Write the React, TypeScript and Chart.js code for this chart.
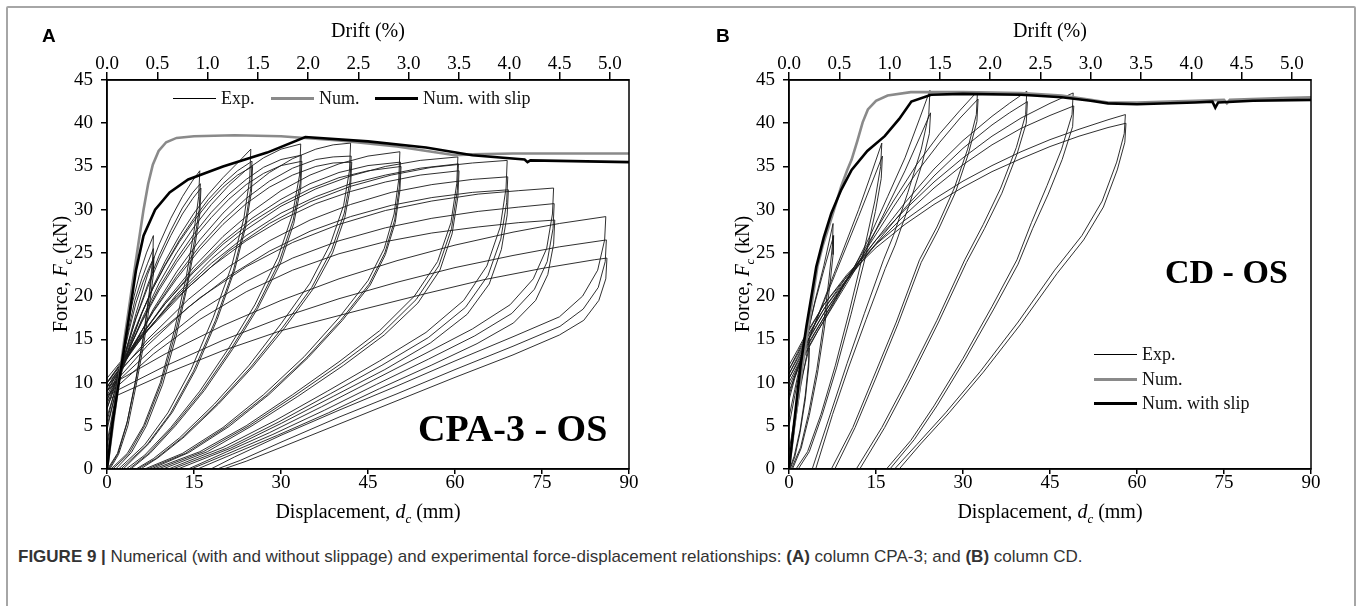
import React, { useEffect, useRef } from "react";
import { Chart, registerables } from "chart.js";

Chart.register(...registerables);

// ---------- axis tick values ----------
const dispTicks = [0, 15, 30, 45, 60, 75, 90];
const forceTicks = [0, 5, 10, 15, 20, 25, 30, 35, 40, 45];
const driftTicks = [0.0, 0.5, 1.0, 1.5, 2.0, 2.5, 3.0, 3.5, 4.0, 4.5, 5.0];
const driftAtMaxDisp = 5.19; // drift (%) at 90 mm

// ---------- Panel A : column CPA-3 ----------
const cpaNum = [
  [0, 0], [1.5, 7.5], [3, 15], [4.3, 21], [5.4, 26], [6.3, 30], [7.1, 33], [7.9, 35.2],
  [8.9, 36.8], [10.2, 37.8], [12, 38.3], [15, 38.5], [22, 38.6], [30, 38.5], [40, 38.0], [50, 37.3],
  [60, 36.3], [63, 36.4], [70, 36.5], [90, 36.5],
];
const cpaNumSlip = [
  [0, 0], [1, 5.5], [2.5, 12], [4, 18.5], [5, 23], [6.3, 27], [8.3, 30], [10.8, 32], [14, 33.5],
  [20, 35], [27.6, 36.6], [34.2, 38.4], [45, 37.9], [55, 37.2], [63, 36.3], [72, 35.8],
  [72.5, 35.5], [73, 35.7], [90, 35.5],
];
const cpaExp08 = [
  [[0, 0], [0.8, 4.5], [1.8, 9.5], [3, 14.5], [4.3, 19], [5.6, 22.5], [6.8, 25], [8, 27],
   [7.9, 24.5], [7.3, 20.5], [6.3, 15.5], [5, 10.5], [3.5, 5.5], [1.8, 1.8], [0.1, 0]],
  [[0, 1.5], [1, 6], [2.2, 11], [3.5, 15.5], [4.8, 19.5], [6, 22], [7, 23.8], [8, 25.5],
   [7.9, 23.5], [7.2, 19.5], [6.2, 14.8], [4.9, 10], [3.4, 5.2], [1.9, 1.8], [0.3, 0]],
  [[0, 2.5], [1.2, 7], [2.5, 12], [3.8, 16], [5, 19.2], [6.2, 21.6], [7.2, 23.2], [8.1, 24.5],
   [8, 22.5], [7.3, 18.8], [6.3, 14.3], [5, 9.6], [3.6, 5], [2, 1.7], [0.5, 0]],
];
const cpaExp16 = [
  [[0, 3], [1.5, 8.5], [3, 13], [5, 18], [7, 22.5], [9, 26], [11, 29], [13, 31.5], [14.7, 33.3], [16, 34.5],
   [15.8, 31.5], [15, 27.5], [13.6, 22], [11.6, 16], [9.2, 10], [6.3, 5], [3.5, 1.8], [0.7, 0]],
  [[0, 4.5], [1.5, 9], [3, 13], [5, 17.5], [7, 21.3], [9, 24.7], [11, 27.6], [13, 30.2], [14.8, 32], [16.1, 33],
   [15.9, 30], [15.1, 26.5], [13.7, 21.2], [11.7, 15.5], [9.3, 9.8], [6.5, 5], [3.8, 1.8], [1, 0]],
  [[0, 5.5], [1.5, 9.5], [3, 13.2], [5, 17.4], [7, 21], [9, 24.2], [11, 27], [13, 29.5], [14.8, 31.3], [16.2, 32.5],
   [16, 29.5], [15.2, 26], [13.8, 21], [11.9, 15.3], [9.6, 9.8], [6.8, 5], [4.2, 1.9], [1.5, 0]],
];
const cpaExp25 = [
  [[0, 5], [2, 10], [4, 14.3], [6, 18], [8, 21.2], [10, 24], [12.5, 27], [15, 29.6], [17.5, 31.8], [20, 33.7], [22.5, 35.4], [24.8, 37],
   [24.6, 33.5], [23.6, 29], [21.5, 23.5], [18.3, 17.5], [14.5, 11.5], [10.5, 6.5], [6.5, 2.8], [2, 0]],
  [[0, 6], [2, 10.5], [4, 14.5], [6, 18], [8, 21], [10, 23.6], [12.5, 26.5], [15, 29], [17.5, 31.2], [20, 33], [22.5, 34.5], [25, 35.6],
   [24.8, 32.5], [23.8, 28.3], [21.8, 23], [18.7, 17.2], [14.9, 11.3], [10.9, 6.4], [6.9, 2.8], [2.4, 0]],
  [[0, 7], [2, 11], [4, 14.8], [6, 18.1], [8, 21], [10, 23.5], [12.5, 26.3], [15, 28.7], [17.5, 30.8], [20, 32.6], [22.5, 34], [25.1, 35],
   [24.9, 32], [23.9, 28], [22, 23], [19, 17.3], [15.3, 11.5], [11.3, 6.6], [7.3, 3], [2.8, 0]],
];
const cpaExp33 = [
  [[0, 7], [3, 12.5], [6, 17.3], [9, 21.5], [12, 25], [15, 28], [18, 30.6], [21, 32.8], [24, 34.6], [27, 36], [30, 37], [33.4, 37.6],
   [33.2, 34], [32, 29.5], [29.5, 24.5], [25.5, 19], [21, 14], [16, 9], [11, 4.8], [6.5, 1.6], [3.3, 0]],
  [[0, 7.5], [3, 12.6], [6, 17.1], [9, 21], [12, 24.3], [15, 27.2], [18, 29.7], [21, 31.8], [24, 33.5], [27, 34.9], [30, 35.8], [33.5, 36.3],
   [33.3, 33], [32.1, 28.8], [29.7, 24], [25.8, 18.7], [21.3, 13.8], [16.4, 9], [11.4, 4.9], [7, 1.7], [3.8, 0]],
  [[0, 8], [3, 12.8], [6, 17], [9, 20.7], [12, 23.9], [15, 26.7], [18, 29.1], [21, 31.2], [24, 32.9], [27, 34.2], [30, 35.1], [33.6, 35.6],
   [33.4, 32.5], [32.2, 28.4], [29.9, 23.8], [26, 18.6], [21.6, 13.8], [16.8, 9.1], [11.8, 5], [7.4, 1.8], [4.1, 0]],
];
const cpaExp42 = [
  [[0, 8], [4, 13.5], [8, 18.5], [12, 22.8], [16, 26.5], [20, 29.6], [24, 32.2], [28, 34.3], [32, 35.9], [36, 37], [39, 37.5], [42, 37.7],
   [41.8, 34.5], [40.8, 30.5], [38.5, 26], [35, 21.5], [30, 16.8], [24.5, 12], [18.5, 7.5], [12.5, 3.6], [8, 1.2], [5, 0]],
  [[0, 8.5], [4, 13.6], [8, 18.3], [12, 22.3], [16, 25.8], [20, 28.8], [24, 31.3], [28, 33.3], [32, 34.8], [36, 35.8], [39, 36.1], [42.1, 36.2],
   [41.9, 33.3], [40.9, 29.6], [38.7, 25.3], [35.3, 21], [30.3, 16.4], [24.8, 11.8], [18.8, 7.4], [12.9, 3.6], [8.4, 1.2], [5.3, 0]],
  [[0, 9], [4, 13.8], [8, 18.2], [12, 22], [16, 25.4], [20, 28.3], [24, 30.7], [28, 32.6], [32, 34], [36, 35], [39, 35.4], [42.2, 35.5],
   [42, 32.7], [41, 29.1], [38.9, 25], [35.5, 20.8], [30.6, 16.3], [25.1, 11.8], [19.2, 7.5], [13.3, 3.7], [8.8, 1.3], [5.8, 0]],
];
const cpaExp50 = [
  [[0, 9], [5, 14.5], [10, 19.3], [15, 23.4], [20, 26.9], [25, 29.8], [30, 32.2], [35, 34], [40, 35.3], [45, 36.2], [50.5, 36.7],
   [50.3, 33.5], [49.5, 29.5], [47.8, 25.5], [45, 21.8], [40, 17.5], [34, 13], [27, 8.6], [20, 4.8], [13, 1.8], [6.5, 0]],
  [[0, 9.5], [5, 14.6], [10, 19.1], [15, 23], [20, 26.3], [25, 29], [30, 31.2], [35, 33], [40, 34.3], [45, 35.1], [50.6, 35.5],
   [50.4, 32.6], [49.6, 28.8], [47.9, 25], [45.2, 21.4], [40.3, 17.2], [34.3, 12.8], [27.4, 8.5], [20.4, 4.8], [13.5, 1.8], [7, 0]],
  [[0, 10], [5, 14.8], [10, 19.1], [15, 22.8], [20, 26], [25, 28.6], [30, 30.7], [35, 32.4], [40, 33.7], [45, 34.5], [50.7, 35],
   [50.5, 32.2], [49.7, 28.5], [48, 24.8], [45.4, 21.3], [40.6, 17.2], [34.7, 12.9], [27.9, 8.6], [21, 4.9], [14.1, 1.9], [7.6, 0]],
];
const cpaExp60 = [
  [[0, 9.5], [6, 15.2], [12, 20.2], [18, 24.3], [24, 27.7], [30, 30.4], [36, 32.4], [42, 33.9], [48, 35], [54, 35.7], [60.5, 36.1],
   [60.3, 33], [59.3, 28.5], [57, 24], [53, 20], [47, 16], [40, 12.4], [32, 8.6], [24, 5], [16, 2], [8.1, 0]],
  [[0, 10], [6, 15.3], [12, 20], [18, 23.8], [24, 27], [30, 29.6], [36, 31.5], [42, 33], [48, 34], [54, 34.8], [60.6, 35.3],
   [60.4, 32.2], [59.4, 27.8], [57.2, 23.5], [53.3, 19.6], [47.4, 15.7], [40.4, 12.2], [32.4, 8.5], [24.5, 5], [16.6, 2], [8.8, 0]],
  [[0, 10.5], [6, 15.4], [12, 19.8], [18, 23.4], [24, 26.4], [30, 28.8], [36, 30.7], [42, 32.1], [48, 33.2], [54, 34], [60.7, 34.5],
   [60.5, 31.5], [59.5, 27.2], [57.4, 23], [53.6, 19.2], [47.8, 15.5], [40.8, 12], [32.9, 8.4], [25, 5], [17.3, 2], [9.6, 0]],
];
const cpaExp69 = [
  [[0, 10], [7, 16], [14, 21], [21, 25.2], [28, 28.4], [35, 30.9], [42, 32.7], [49, 34], [56, 34.9], [63, 35.4], [69, 35.7],
   [68.8, 32.5], [67.8, 28], [65.5, 23.5], [61.5, 19.5], [55, 15.8], [47, 12.5], [38, 9], [29, 5.6], [20, 2.5], [10.6, 0]],
  [[0, 9.5], [7, 15], [14, 19.6], [21, 23.4], [28, 26.4], [35, 28.8], [42, 30.6], [49, 32], [56, 32.9], [63, 33.5], [69.1, 33.8],
   [68.9, 30.8], [67.9, 26.6], [65.7, 22.4], [61.8, 18.7], [55.4, 15.2], [47.4, 12], [38.5, 8.7], [29.5, 5.4], [20.6, 2.4], [11.3, 0]],
  [[0, 9], [7, 14.3], [14, 18.7], [21, 22.3], [28, 25.2], [35, 27.5], [42, 29.2], [49, 30.5], [56, 31.4], [63, 32], [69.2, 32.3],
   [69, 29.4], [68, 25.4], [65.9, 21.4], [62.1, 17.9], [55.8, 14.6], [47.9, 11.5], [39, 8.4], [30.1, 5.3], [21.3, 2.4], [12.2, 0]],
];
const cpaExp77 = [
  [[0, 10], [8, 15.3], [16, 19.8], [24, 23.4], [32, 26.2], [40, 28.3], [48, 29.9], [56, 31], [64, 31.8], [71, 32.2], [77, 32.5],
   [76.8, 29.5], [75.8, 25.5], [73.5, 22], [69.5, 19], [63, 16.2], [55, 13.4], [46, 10.3], [37, 7.2], [28, 4.2], [20, 1.8], [14, 0]],
  [[0, 9], [8, 14], [16, 18.3], [24, 21.7], [32, 24.4], [40, 26.4], [48, 27.9], [56, 29], [64, 29.8], [71, 30.3], [77.1, 30.7],
   [76.9, 27.8], [75.9, 24], [73.7, 20.8], [69.8, 18], [63.4, 15.4], [55.4, 12.7], [46.5, 9.8], [37.5, 6.8], [28.6, 4], [20.6, 1.7], [14.5, 0]],
  [[0, 8.5], [8, 13.3], [16, 17.3], [24, 20.5], [32, 23], [40, 24.9], [48, 26.3], [56, 27.3], [64, 28], [71, 28.5], [77.2, 28.8],
   [77, 26], [76, 22.5], [73.9, 19.5], [70.1, 16.9], [63.8, 14.5], [55.9, 12], [47, 9.3], [38.2, 6.5], [29.4, 3.9], [21.6, 1.7], [15.6, 0]],
];
const cpaExp86 = [
  [[0, 9.5], [10, 13.3], [20, 16.6], [30, 19.5], [40, 22], [50, 24.1], [60, 25.9], [70, 27.4], [78, 28.4], [86, 29.2],
   [85.8, 26.5], [84.6, 23], [82, 20], [78, 17.6], [70, 15.3], [60, 12.5], [50, 9.6], [40, 6.8], [30, 3.9], [22, 1.4], [17.9, 0]],
  [[0, 8.5], [10, 11.9], [20, 14.9], [30, 17.5], [40, 19.7], [50, 21.6], [60, 23.3], [70, 24.7], [78, 25.7], [86.1, 26.5],
   [85.9, 24], [84.7, 21], [82.1, 18.5], [78.1, 16.5], [70, 14.2], [60, 11.5], [50, 8.7], [40, 6], [30, 3.1], [23, 1], [19, 0]],
  [[0, 8], [10, 11], [20, 13.7], [30, 16], [43.7, 18.4], [55, 20.3], [65, 21.9], [75, 23.2], [84, 24.2], [86.2, 24.4],
   [86, 22], [84.8, 19.5], [82.2, 17.2], [78, 15.5], [70, 13.2], [60, 10.6], [50, 7.9], [40, 5.2], [30, 2.5], [24, 0.9], [20.1, 0]],
];

// ---------- Panel B : column CD ----------
const cdNum = [
  [0, 0], [1, 5.5], [2, 10.5], [3, 15], [4, 19.5], [4.9, 23.4], [5.8, 25.8], [6.7, 27.7], [8, 30.5],
  [9, 32.7], [10, 34.5], [10.8, 35.8], [11.8, 38], [12.7, 40.1], [13.6, 41.6], [15, 42.6], [17, 43.2],
  [21, 43.6], [30, 43.6], [40, 43.5], [47, 43.2], [52, 42.7], [55, 42.4], [60, 42.4], [70, 42.6],
  [75, 42.7], [75.5, 42.3], [76, 42.7], [85, 42.9], [90, 43.0],
];
const cdNumSlip = [
  [0, 0], [1, 6], [2, 12], [3, 16.5], [4, 20.5], [4.7, 23.4], [6, 26.8], [7.3, 29.6], [9, 32.3],
  [10.8, 34.6], [13.5, 36.8], [16.5, 38.5], [19, 40.5], [21.1, 42.5], [24.5, 43.3], [30, 43.4],
  [40, 43.3], [47, 43.0], [52, 42.6], [55, 42.3], [60, 42.2], [70, 42.4], [73, 42.5], [73.5, 41.8],
  [74, 42.4], [80, 42.6], [90, 42.7],
];
const cdExp03 = [
  [[0, 0], [1, 5], [2, 9.5], [3, 13], [3.5, 15], [3.4, 12.5], [2.8, 8.5], [1.9, 4.5], [0.9, 1.5], [0.1, 0]],
  [[0, 2], [1, 6], [2, 10], [3, 12.7], [3.5, 14], [3.4, 11.8], [2.8, 8], [1.9, 4.2], [1, 1.4], [0.2, 0]],
];
const cdExp08 = [
  [[0, 5], [1, 8.5], [2, 12], [3, 15], [4.5, 19.5], [6, 23.5], [7.6, 28.4],
   [7.5, 26], [6.9, 22], [6, 17], [4.8, 11.5], [3.4, 6.5], [2, 2.5], [0.4, 0]],
  [[0, 6], [1, 9.2], [2, 12.4], [3, 15.2], [4.5, 19.3], [6, 23], [7.7, 27],
   [7.6, 24.8], [7, 21], [6.1, 16.3], [4.9, 11], [3.5, 6.2], [2.1, 2.4], [0.6, 0]],
];
const cdExp16 = [
  [[0, 8], [1, 10.5], [2.5, 13.5], [4, 16], [6, 19.5], [8, 23], [10, 26.5], [12, 30], [14, 33.8], [16, 37.7],
   [15.8, 35], [14.8, 31], [13, 25.5], [10.5, 18.5], [8, 12], [5.5, 6.3], [3.2, 2], [1.2, 0]],
  [[0, 8.5], [1, 10.8], [2.5, 13.6], [4, 16], [6, 19.3], [8, 22.6], [10, 25.9], [12, 29.2], [14, 32.6], [16.1, 36.2],
   [15.9, 33.6], [14.9, 29.8], [13.2, 24.6], [10.7, 17.9], [8.2, 11.7], [5.7, 6.2], [3.5, 2], [1.6, 0]],
];
const cdExp24 = [
  [[0, 9], [1.5, 11.5], [3, 13.5], [5, 16], [8, 19.5], [11, 23], [14, 27], [17, 31.5], [20, 36], [22.5, 40.5], [24.3, 43.8],
   [24.1, 41], [22.8, 37], [20.5, 32], [18, 27], [16.3, 24.2], [13, 18], [10, 12.2], [7.2, 6.5], [4, 0]],
  [[0, 9.5], [1.5, 11.8], [3, 13.7], [5, 16], [8, 19.3], [11, 22.6], [14, 26.3], [17, 30.4], [20, 34.5], [22.5, 38.3], [24.4, 41.2],
   [24.2, 38.8], [22.9, 35.2], [20.7, 30.5], [18.3, 25.9], [16.6, 23.2], [13.3, 17.3], [10.3, 11.8], [7.5, 6.3], [4.6, 0]],
];
const cdExp32 = [
  [[0, 10], [1.5, 12], [3, 14], [6, 17.5], [10, 22], [14, 26.5], [18, 31], [22, 35.2], [26, 38.8], [29.5, 41.5], [32.5, 43.7],
   [32.3, 41], [30.8, 37], [28.5, 32.5], [25.5, 28], [22.5, 24.2], [18.5, 17], [14.5, 10.5], [11, 4.8], [7.3, 0]],
  [[0, 10.5], [1.5, 12.3], [3, 14.2], [6, 17.5], [10, 21.8], [14, 26.1], [18, 30.3], [22, 34.3], [26, 37.8], [29.5, 40.6], [32.6, 42.8],
   [32.4, 40.2], [30.9, 36.4], [28.7, 32], [25.7, 27.6], [22.8, 23.9], [18.8, 16.8], [14.9, 10.4], [11.4, 4.8], [7.9, 0]],
];
const cdExp41 = [
  [[0, 10.5], [1.5, 12.5], [3, 14.5], [6, 18], [10, 22], [15, 26.5], [20, 30.8], [25, 34.7], [30, 38], [35, 40.8], [38, 42.3], [41, 43.7],
   [40.8, 41], [39.2, 37.2], [36.5, 32.5], [33.5, 28.3], [30.3, 24.2], [25.5, 17.2], [20.5, 10.5], [16, 4.8], [11.6, 0]],
  [[0, 11], [1.5, 12.8], [3, 14.7], [6, 18], [10, 21.8], [15, 26.1], [20, 30.2], [25, 33.9], [30, 37.1], [35, 39.8], [38, 41.2], [41.1, 42.5],
   [40.9, 40], [39.3, 36.4], [36.7, 31.9], [33.7, 27.8], [30.6, 23.9], [25.8, 17], [20.9, 10.4], [16.5, 4.8], [12.2, 0]],
];
const cdExp49 = [
  [[0, 11], [1.5, 13], [3, 15], [6, 18.5], [10, 22.3], [15, 26.5], [20, 30], [25, 33.2], [30, 36], [35, 38.5], [40, 40.6], [45, 42.3], [49, 43.5],
   [48.8, 41], [47, 37], [44.5, 32.8], [41.8, 28.5], [39.3, 24.2], [35, 18.8], [30, 12.8], [25, 7.3], [21, 3.3], [16.8, 0]],
  [[0, 11.5], [1.5, 13.3], [3, 15.2], [6, 18.5], [10, 22], [15, 26], [20, 29.4], [25, 32.5], [30, 35.2], [35, 37.5], [40, 39.4], [45, 40.9], [49.1, 42],
   [48.9, 39.6], [47.1, 35.8], [44.7, 31.8], [42, 27.8], [39.5, 23.7], [35.3, 18.5], [30.4, 12.7], [25.5, 7.3], [21.6, 3.4], [17.4, 0]],
];
const cdExp58 = [
  [[0, 11.5], [1.5, 13.5], [3, 15.5], [6, 19], [10, 22.5], [15, 26], [20, 28.8], [25, 31.2], [30, 33.3], [35, 35.1], [40, 36.7], [45, 38.1], [50, 39.3], [55, 40.4], [58, 41],
   [57.8, 38.8], [56.5, 35.5], [54, 31], [50.5, 27], [45.8, 23], [39.5, 17], [33, 11.3], [27, 6.5], [22, 2.8], [18.2, 0]],
  [[0, 12], [1.5, 13.8], [3, 15.7], [6, 19], [10, 22.3], [15, 25.6], [20, 28.3], [25, 30.6], [30, 32.6], [35, 34.4], [40, 35.9], [45, 37.3], [50, 38.5], [55, 39.5], [58.1, 40],
   [57.9, 37.8], [56.6, 34.6], [54.2, 30.3], [50.8, 26.5], [46.2, 22.6], [40, 16.8], [33.5, 11.2], [27.6, 6.5], [22.7, 2.9], [19, 0]],
];

const cpaLoops = [...cpaExp08, ...cpaExp16, ...cpaExp25, ...cpaExp33, ...cpaExp42, ...cpaExp50, ...cpaExp60, ...cpaExp69, ...cpaExp77, ...cpaExp86];
const cdLoops = [...cdExp03, ...cdExp08, ...cdExp16, ...cdExp24, ...cdExp32, ...cdExp41, ...cdExp49, ...cdExp58];

// ---------- styling ----------
const SERIF = "'Liberation Serif', 'Times New Roman', serif";
const SANS = "'Liberation Sans', Arial, Helvetica, sans-serif";
const tickFont = { family: SERIF, size: 19, lineHeight: 1 };

const framePlugin = {
  id: "frame",
  afterDraw(chart: any) {
    const { ctx, chartArea: a } = chart;
    ctx.save();
    ctx.strokeStyle = "#000";
    ctx.lineWidth = 1.5;
    ctx.strokeRect(a.left, a.top, a.right - a.left, a.bottom - a.top);
    ctx.restore();
  },
};

type Pair = number[];

function Panel({ left, loops, num, numSlip }: { left: number; loops: Pair[][]; num: Pair[]; numSlip: Pair[] }) {
  const ref = useRef<HTMLCanvasElement>(null);
  useEffect(() => {
    const toPts = (arr: Pair[]) => arr.map(([x, y]) => ({ x, y }));
    const base = { showLine: true, pointRadius: 0, pointHoverRadius: 0, tension: 0, fill: false };
    const datasets: any[] = [
      { ...base, label: "Num. with slip", data: toPts(numSlip), borderColor: "#000", borderWidth: 2.6 },
      { ...base, label: "Num.", data: toPts(num), borderColor: "#8a8a8a", borderWidth: 2.6 },
      ...loops.map((l, i) => ({ ...base, label: "Exp. " + i, data: toPts(l), borderColor: "rgba(25,25,25,0.9)", borderWidth: 1 })),
    ];
    const axisGrid = (len: number) => ({ drawOnChartArea: false, drawTicks: true, tickLength: len, color: "#000", lineWidth: 1.5 });
    const chart = new Chart(ref.current as HTMLCanvasElement, {
      type: "scatter",
      data: { datasets },
      plugins: [framePlugin],
      options: {
        animation: false,
        responsive: false,
        events: [],
        layout: { padding: { left: 0, right: 51, top: 0, bottom: 0 } },
        plugins: { legend: { display: false }, tooltip: { enabled: false } },
        scales: {
          x: {
            type: "linear",
            position: "bottom",
            min: 0,
            max: 90,
            afterBuildTicks: (s: any) => { s.ticks = dispTicks.map((v) => ({ value: v })); },
            afterFit: (s: any) => { s.height = 72; },
            ticks: { font: tickFont, color: "#000", padding: 0, autoSkip: false, maxRotation: 0 },
            grid: axisGrid(5),
            border: { color: "#000", width: 1.5 },
          },
          drift: {
            type: "linear",
            axis: "x",
            position: "top",
            min: 0,
            max: driftAtMaxDisp,
            afterBuildTicks: (s: any) => { s.ticks = driftTicks.map((v) => ({ value: v })); },
            afterFit: (s: any) => { s.height = 80; },
            ticks: { font: tickFont, color: "#000", padding: -1.5, autoSkip: false, maxRotation: 0, callback: (v: any) => Number(v).toFixed(1) },
            grid: axisGrid(8),
            border: { color: "#000", width: 1.5 },
            title: { display: true, text: "Drift (%)", font: { family: SERIF, size: 20, lineHeight: 1.2 }, color: "#000", padding: { top: 20, bottom: 0 } },
          },
          y: {
            type: "linear",
            position: "left",
            min: 0,
            max: 45,
            afterBuildTicks: (s: any) => { s.ticks = forceTicks.map((v) => ({ value: v })); },
            afterFit: (s: any) => { s.width = 107; },
            ticks: { font: tickFont, color: "#000", padding: 8, autoSkip: false },
            grid: axisGrid(6),
            border: { color: "#000", width: 1.5 },
          },
        },
      } as any,
    });
    return () => chart.destroy();
  }, []);
  return <canvas ref={ref} width={680} height={541} style={{ position: "absolute", left, top: 0 }} />;
}

const abs = (l: number, t: number, extra: any = {}) => ({ position: "absolute" as const, left: l, top: t, ...extra });

function YTitle({ cx, cy }: { cx: number; cy: number }) {
  return (
    <div style={abs(cx - 120, cy - 13, { width: 240, height: 26, lineHeight: "26px", textAlign: "center", transform: "rotate(-90deg)", fontFamily: SERIF, fontSize: 20, whiteSpace: "nowrap" })}>
      Force, <i>F</i><i style={{ fontSize: 13, position: "relative", top: 5 }}>c</i> (kN)
    </div>
  );
}

function XTitle({ cx, cy }: { cx: number; cy: number }) {
  return (
    <div style={abs(cx - 150, cy - 13, { width: 300, height: 26, lineHeight: "26px", textAlign: "center", fontFamily: SERIF, fontSize: 20, whiteSpace: "nowrap" })}>
      Displacement, <i>d</i><i style={{ fontSize: 13, position: "relative", top: 5 }}>c</i> (mm)
    </div>
  );
}

function LegendItem({ x, y, kind, text }: { x: number; y: number; kind: string; text: string }) {
  const thick = kind !== "exp";
  const color = kind === "num" ? "#8a8a8a" : "#000";
  return (
    <>
      <div style={abs(x, y - (thick ? 1.5 : 0.5), { width: 43, height: thick ? 3 : 1, background: color })} />
      <div style={abs(x + 48, y - 11, { height: 22, lineHeight: "22px", fontFamily: SERIF, fontSize: 18, whiteSpace: "nowrap", color: "#111" })}>{text}</div>
    </>
  );
}

export default function App() {
  useEffect(() => {
    document.body.style.margin = "0";
  }, []);
  return (
    <div style={{ position: "absolute", left: 0, top: 0, width: 1360, height: 606, overflow: "hidden", background: "#fff" }}>
      <div style={abs(6, 6, { width: 1346, height: 640, border: "2px solid #a6a6a6", borderRadius: 2 })} />

      <Panel left={0} loops={cpaLoops} num={cpaNum} numSlip={cpaNumSlip} />
      <Panel left={682} loops={cdLoops} num={cdNum} numSlip={cdNumSlip} />

      <div style={abs(42, 25, { fontFamily: SANS, fontWeight: "bold", fontSize: 19 })}>A</div>
      <div style={abs(716, 25, { fontFamily: SANS, fontWeight: "bold", fontSize: 19 })}>B</div>

      <YTitle cx={60} cy={274} />
      <YTitle cx={742} cy={274} />
      <XTitle cx={368} cy={511} />
      <XTitle cx={1050} cy={511} />

      <LegendItem x={173} y={98} kind="exp" text="Exp." />
      <LegendItem x={271} y={98} kind="num" text="Num." />
      <LegendItem x={375} y={98} kind="slip" text="Num. with slip" />

      <LegendItem x={1094} y={354} kind="exp" text="Exp." />
      <LegendItem x={1094} y={379} kind="num" text="Num." />
      <LegendItem x={1094} y={403} kind="slip" text="Num. with slip" />

      <div style={abs(418, 428 - 19, { fontFamily: SERIF, fontWeight: "bold", fontSize: 38, lineHeight: "38px", whiteSpace: "nowrap" })}>CPA-3 - OS</div>
      <div style={abs(1165, 272 - 17, { fontFamily: SERIF, fontWeight: "bold", fontSize: 34, lineHeight: "34px", whiteSpace: "nowrap" })}>CD - OS</div>

      <div style={abs(18, 546, { fontFamily: SANS, fontSize: 17, lineHeight: "22px", color: "#333", whiteSpace: "nowrap" })}>
        <b>FIGURE 9 |</b> Numerical (with and without slippage) and experimental force-displacement relationships: <b>(A)</b> column CPA-3; and <b>(B)</b> column CD.
      </div>
    </div>
  );
}
